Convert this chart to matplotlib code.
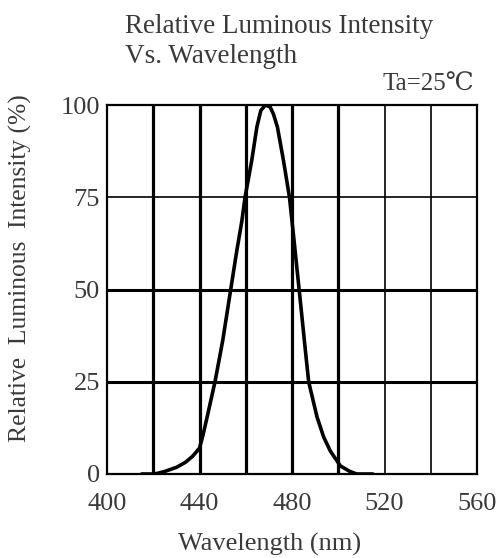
import numpy as np
import matplotlib.pyplot as plt

plt.rcParams['font.family'] = ['Liberation Serif', 'DejaVu Serif']

# spectrum (nm, %)
wavelength = [415, 420, 422, 425, 430, 434, 437, 440, 441.5, 443.5, 446.7, 450, 453, 456,
              458.3, 459.7, 462.6, 464.8, 466.5, 468.5, 470.5, 472, 473.7, 476.3, 478.9,
              480.6, 482.5, 483.5, 485.7, 487.2, 490.8, 493.7, 496.6, 500.9, 505, 508, 515]
intensity = [0, 0, 0.2, 0.7, 1.8, 3.2, 4.8, 7, 10.5, 16, 25, 36, 48, 60,
             68.5, 75, 85, 94, 98.5, 100, 99.5, 97.5, 94, 85, 75,
             65, 53.5, 47.5, 34, 25, 15.5, 10, 6.2, 2.2, 0.7, 0, 0]

x_ticks = [400, 440, 480, 520, 560]
y_ticks = [0, 25, 50, 75, 100]
v_grid = [420, 440, 460, 480, 500, 520, 540]
h_grid = [25, 50, 75]

txt = '#3a3a3a'

fig = plt.figure(figsize=(4.96, 5.58), dpi=100)
ax = fig.add_axes([107 / 496, 1 - 474 / 558, 370 / 496, 369 / 558])

for x in v_grid:
    ax.axvline(x, color='black', lw=2.3 if x <= 500 else 1.2, zorder=1)
for y in h_grid:
    ax.axhline(y, color='black', lw=1.2 if y == 75 else 2.2, zorder=1)

ax.plot(wavelength, intensity, color='black', lw=2.6, zorder=3,
        solid_capstyle='round', solid_joinstyle='round')

ax.set_xlim(400, 560)
ax.set_ylim(0, 100)
ax.set_xticks(x_ticks)
ax.set_yticks(y_ticks)
ax.tick_params(length=0, labelsize=19, colors=txt)
ax.tick_params(axis='x', pad=14)
ax.tick_params(axis='y', pad=5)
for s in ax.spines.values():
    s.set_linewidth(1.6)

fig.text(125 / 496, 1 - 33 / 558, 'Relative Luminous Intensity', fontsize=19.5, color=txt)
fig.text(125 / 496, 1 - 63 / 558, 'Vs. Wavelength', fontsize=19.5, color=txt)
fig.text(474 / 496, 1 - 91 / 558, 'Ta=25\u2103', fontsize=18, color=txt, ha='right')
fig.text(20 / 496, 1 - 268 / 558, 'Relative  Luminous  Intensity (%)', fontsize=18.4,
         color=txt, rotation=90, ha='center', va='center')
fig.text(270 / 496, 2 / 558, 'Wavelength (nm)', fontsize=19,
         color=txt, ha='center', va='bottom')

fig.savefig('out.png', dpi=100)
